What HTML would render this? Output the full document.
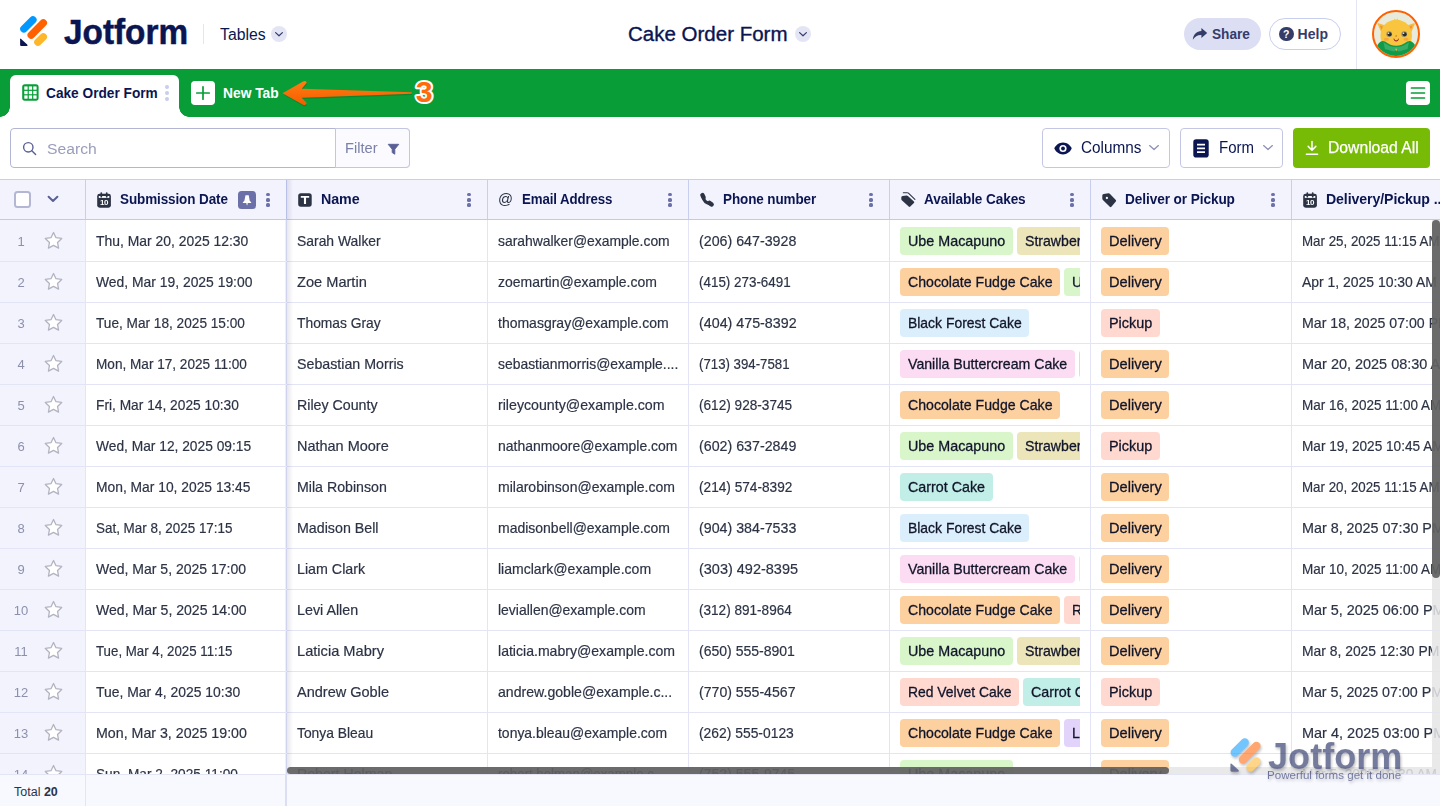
<!DOCTYPE html>
<html><head><meta charset="utf-8"><title>Cake Order Form - Jotform Tables</title>
<style>
*{box-sizing:border-box;margin:0;padding:0}
html,body{width:1440px;height:806px;overflow:hidden;background:#fff}
body{font-family:"Liberation Sans",sans-serif;color:#2c3345;position:relative;-webkit-font-smoothing:antialiased}
.abs{position:absolute}
/* header */
#hdr{position:absolute;left:0;top:0;width:1440px;height:69px;background:#fff}
#greenbar{position:absolute;left:0;top:69px;width:1440px;height:48px;background:#089d37}
#tab{position:absolute;left:10px;top:75px;width:169px;height:42px;background:#fff;border-radius:6px 6px 0 0}
#tab:before,#tab:after{content:"";position:absolute;bottom:0;width:10px;height:10px;background:radial-gradient(circle at 0 0,rgba(255,255,255,0) 9.5px,#fff 10px)}
#tab:before{left:-10px}
#tab:after{right:-10px;background:radial-gradient(circle at 100% 0,rgba(255,255,255,0) 9.5px,#fff 10px)}
.t{position:absolute;white-space:nowrap;line-height:1;transform-origin:0 0}
/* toolbar */
#search{position:absolute;left:10px;top:128px;width:400px;height:40px;border:1px solid #b2b6d4;border-radius:4px;background:#fff}
#filter{position:absolute;left:335px;top:128px;width:75px;height:40px;border:1px solid #c3c6e0;border-left:1px solid #c3c6e0;border-radius:0 4px 4px 0;background:#fafaff}
.btn{position:absolute;top:128px;height:40px;border:1px solid #c3c7e3;border-radius:4px;background:#fff}
/* table */
#thead{position:absolute;left:0;top:179px;width:1440px;height:41px;background:#f3f3fe;border-top:1px solid #c8ceed;border-bottom:1px solid #c3c9ea}
.hc{position:absolute;top:0;height:39px;border-right:1px solid #c8ceed}
.ht{position:absolute;transform-origin:0 0;top:12px;font-size:14px;font-weight:bold;color:#0a1551;white-space:nowrap;line-height:1;letter-spacing:-0.1px}
.dots{position:absolute;top:13.3px;width:3.2px;height:14px}
.dots i{display:block;width:3.2px;height:3.2px;border-radius:50%;background:#6b71a8;margin-bottom:1.9px}
.row{position:absolute;left:0;width:1440px;height:41px;border-bottom:1px solid #e3e5f6}
.c{position:absolute;top:0;height:40px;font-size:15px;line-height:39px;white-space:nowrap;overflow:hidden;color:#2c3345;padding-left:10px}
.c0{left:0;width:85px;padding:0}
.c1{left:86px;width:200px}
.c2{left:287px;width:200px}
.c3{left:488px;width:200px}
.c4{left:689px;width:200px}
.c5{left:890px;width:200px}
.c6{left:1091px;width:200px}
.c7{left:1292px;width:148px}
.vl{position:absolute;top:220px;width:1px;height:554px;background:#e3e5f6}
.num{position:absolute;left:0;top:1px;width:42px;text-align:center;font-size:13px;color:#8c90ac}
.star{position:absolute;left:42.5px;top:9.2px;width:21px;height:21px}
.tags{position:absolute;left:10px;top:0;width:180px;height:40px;overflow:hidden;white-space:nowrap;font-size:0}
.s{display:inline-block;transform-origin:0 50%;white-space:nowrap;-webkit-text-stroke:0.2px currentColor}
.tag .s{-webkit-text-stroke:0.3px currentColor}
.tag{display:inline-block;vertical-align:top;margin-top:6px;height:28px;line-height:28px;padding:0 0 0 8px;border-radius:4px;color:#11152a;font-size:15px;margin-right:4.2px;overflow:hidden;white-space:nowrap}
.k-g{background:#d9f5ca}.k-o{background:#fdd0a0}.k-b{background:#dbeefb}.k-p{background:#fcdcf2}
.k-t{background:#ece5ba}.k-c{background:#c1efe8}.k-r{background:#ffd8d0}.k-l{background:#e2d3fb}
/* footer */
#foot{position:absolute;left:0;top:774px;width:1440px;height:32px;background:#f8f8ff;border-top:1px solid #e3e5f5}
#all{position:absolute;left:0;top:0;width:1440px;height:806px;opacity:0.999}
</style></head><body><div id="all">

<div id="hdr">
  <!-- logo icon -->
  <svg class="abs" style="left:18px;top:14px" width="32" height="34" viewBox="0 0 32 34">
    <g stroke-linecap="round" stroke-width="7.4" fill="none">
      <line x1="5.9" y1="14.8" x2="14.9" y2="5.8" stroke="#0099ff"/>
      <line x1="13.2" y1="21.1" x2="25.3" y2="8.9" stroke="#ff6100"/>
      <line x1="19.9" y1="28.2" x2="25.3" y2="22.8" stroke="#ffb629"/>
    </g>
    <path d="M2.1 25.3 Q2.1 24 3.1 24.9 L9.2 30.4 Q10.3 31.9 8.6 31.9 L3.1 31.9 Q2.1 31.9 2.1 30.9 Z" fill="#0a1551"/>
  </svg>
  <div class="t" id="jf" style="left:64.4px;top:15.3px;font-size:34.5px;font-weight:bold;color:#0a1551;-webkit-text-stroke:0.5px #0a1551;transform:scaleX(0.966)">Jotform</div>
  <div class="abs" style="left:203px;top:24px;width:1px;height:20px;background:#e3e5f5"></div>
  <div class="t" id="tbl" style="left:220px;top:27.2px;font-size:16px;color:#0a1551;transform:scaleX(0.985)">Tables</div>
  <div class="abs" style="left:271px;top:26px;width:16px;height:16px;border-radius:50%;background:#e3e5f5"></div>
  <svg class="abs" style="left:271px;top:26px" width="16" height="16" viewBox="0 0 16 16"><path d="M4.6 6.6l3.4 3.2 3.4-3.2" fill="none" stroke="#343c6a" stroke-width="1.2" stroke-linecap="round" stroke-linejoin="round"/></svg>

  <div class="t" id="ttl" style="left:628.4px;top:24.3px;font-size:20px;color:#0a1551;-webkit-text-stroke:0.35px #0a1551;transform:scaleX(1.025)">Cake Order Form</div>
  <div class="abs" style="left:795px;top:26px;width:16px;height:16px;border-radius:50%;background:#e3e5f5"></div>
  <svg class="abs" style="left:795px;top:26px" width="16" height="16" viewBox="0 0 16 16"><path d="M4.6 6.6l3.4 3.2 3.4-3.2" fill="none" stroke="#343c6a" stroke-width="1.2" stroke-linecap="round" stroke-linejoin="round"/></svg>

  <!-- share -->
  <div class="abs" style="left:1184px;top:18px;width:77px;height:32px;border-radius:16px;background:#dcdff3"></div>
  <svg class="abs" style="left:1192px;top:27px" width="16" height="14" viewBox="0 0 16 14"><path d="M9.4 1 L15.2 6 L9.4 11 V8 C5.8 7.8 3 9.2 0.8 12.8 C1.2 7.6 4.6 4.4 9.4 4 Z" fill="#343c6a"/></svg>
  <div class="t" style="left:1212px;top:27.2px;font-size:14px;font-weight:bold;color:#343c6a;transform:scaleX(0.975)">Share</div>
  <!-- help -->
  <div class="abs" style="left:1269px;top:18px;width:72px;height:32px;border-radius:16px;background:#fff;border:1px solid #c8ceed"></div>
  <div class="abs" style="left:1279px;top:26.5px;width:14.5px;height:14.5px;border-radius:50%;background:#343c6a;color:#fff;font-size:10.5px;font-weight:bold;text-align:center;line-height:15px">?</div>
  <div class="t" style="left:1297.6px;top:27.2px;font-size:14px;font-weight:bold;color:#343c6a;transform:scaleX(1.0)">Help</div>
  <div class="abs" style="left:1356px;top:0;width:1px;height:69px;background:#e3e5f5"></div>
  <!-- avatar -->
  <div class="abs" style="left:1372px;top:10px;width:48px;height:48px;border-radius:50%;background:#e8eadc;border:2px solid #ff6100;overflow:hidden">
    <svg width="44" height="44" viewBox="0 0 44 44">
      <g transform="translate(0,1.3)">
      <path d="M5 14 L3.6 10.6 Q3.6 9.6 4.8 9.9 L15 13.5 L9 23 Z" fill="#f9b93a"/>
      <path d="M39.4 14 L40.8 10.6 Q40.8 9.6 39.6 9.9 L29.4 13.5 L35.4 23 Z" fill="#f9b93a"/>
      <path d="M6 12.2 L12.4 14.6 L8.6 19.6 Z" fill="#ef8f2e"/>
      <path d="M38.4 12.2 L32 14.6 L35.8 19.6 Z" fill="#ef8f2e"/>
      <path d="M19.4 8.2 L20.6 5.2 L21.8 7.2 L23.4 5 L24.4 8.2 Z" fill="#f9c53f"/>
      <circle cx="22.2" cy="22.2" r="15.8" fill="#f9c53f"/>
      </g>
      <path d="M-2 46 L3.5 33 Q7 27.6 11 29.6 Q22 38 33.4 29.6 Q37.4 27.6 41 33 L46 46 Z" fill="#109b48"/>
      <path d="M9.5 30.2 Q22 40 35 30.2 L33.5 37 L24.5 39.6 L22.2 37.6 L20 39.6 L11 37 Z" fill="#3aae68"/>
      <path d="M21.2 36.8 L22.2 39.6 L23.2 36.8 Z" fill="#f9b93a"/>
      <g transform="translate(0,1.3)">
      <circle cx="15.2" cy="20.8" r="2.9" fill="#8e8c78"/><circle cx="30.2" cy="20.8" r="2.9" fill="#8e8c78"/>
      <circle cx="15.6" cy="20.9" r="2" fill="#2b2a25"/><circle cx="30.6" cy="20.9" r="2" fill="#2b2a25"/>
      <circle cx="14.6" cy="20" r="0.8" fill="#f4f1e4"/><circle cx="29.6" cy="20" r="0.8" fill="#f4f1e4"/>
      <ellipse cx="12.4" cy="26" rx="2.6" ry="1.5" fill="#f7a83a"/><ellipse cx="32" cy="26" rx="2.6" ry="1.5" fill="#f7a83a"/>
      <ellipse cx="22.2" cy="22.6" rx="0.8" ry="0.9" fill="#c98a2a"/>
      <path d="M19.4 25.2 Q22.2 26.4 25 25.2 Q24.4 28.2 22.2 28.2 Q20 28.2 19.4 25.2 Z" fill="#a3262a"/>
      <path d="M20.6 25.7 Q22.2 26.3 23.8 25.7 L23.5 26.7 Q22.2 27 20.9 26.7 Z" fill="#fbe9d8"/>
      </g>
    </svg>
  </div>
</div>

<div id="greenbar"></div>
<div id="tab">
  <svg class="abs" style="left:11.5px;top:9px" width="17" height="17" viewBox="0 0 17 17"><rect x="0.2" y="0.3" width="16.4" height="16.4" rx="2.6" fill="#089d37"/><g fill="#fff"><rect x="2.3" y="2.4" width="3.3" height="3.3"/><rect x="6.8" y="2.4" width="3.3" height="3.3"/><rect x="11.3" y="2.4" width="3.3" height="3.3"/><rect x="2.3" y="6.9" width="3.3" height="3.3"/><rect x="6.8" y="6.9" width="3.3" height="3.3"/><rect x="11.3" y="6.9" width="3.3" height="3.3"/><rect x="2.3" y="11.4" width="3.3" height="3.3"/><rect x="6.8" y="11.4" width="3.3" height="3.3"/><rect x="11.3" y="11.4" width="3.3" height="3.3"/></g></svg>
  <div class="t" style="left:36.2px;top:10.9px;font-size:14px;font-weight:bold;color:#0a1551;transform:scaleX(0.977)">Cake Order Form</div>
  <div class="abs" style="left:155px;top:9.7px;width:4.2px;height:4.2px;border-radius:50%;background:#c8ceed"></div>
  <div class="abs" style="left:155px;top:15.9px;width:4.2px;height:4.2px;border-radius:50%;background:#c8ceed"></div>
  <div class="abs" style="left:155px;top:22.1px;width:4.2px;height:4.2px;border-radius:50%;background:#c8ceed"></div>
</div>
<!-- new tab -->
<div class="abs" style="left:191px;top:81px;width:24px;height:24px;border-radius:4px;background:#fff"></div>
<svg class="abs" style="left:191px;top:81px" width="24" height="24" viewBox="0 0 24 24"><path d="M12 5.8v12.4M5.8 12h12.4" stroke="#089d37" stroke-width="1.7" stroke-linecap="round"/></svg>
<div class="t" style="left:223.2px;top:86.3px;font-size:14px;font-weight:bold;color:#fff;transform:scaleX(0.985)">New Tab</div>
<!-- arrow annotation -->
<svg class="abs" style="left:280px;top:76px" width="160" height="36" viewBox="0 0 160 36">
  <defs><linearGradient id="ag" x1="0" y1="0" x2="0" y2="1"><stop offset="0" stop-color="#ff7d12"/><stop offset="1" stop-color="#f55c00"/></linearGradient></defs>
  <path d="M3.3 18.6 L23.3 6.9 Q26.6 5.6 27 8.2 L22 14 L132 17.5 L132 19 L22 23 L27 28.4 Q26.6 31 23.3 30 Z" fill="#0a6d25" opacity="0.45"/>
  <path d="M2.5 17.2 L23 5.5 Q26.3 4.2 26.7 6.8 L21.7 12.7 L131.7 16.2 L131.7 17.7 L21.7 21.7 L26.7 27 Q26.3 29.8 23 28.8 Z" fill="url(#ag)"/>
  <text x="135.8" y="26.4" font-family="Liberation Sans, sans-serif" font-weight="bold" font-size="28" transform="translate(135.8 26.6) scale(1.08 1.03) translate(-135.8 -26.6)" fill="#ff6b0a" stroke="#fff" stroke-width="3.8" paint-order="stroke" stroke-linejoin="round">3</text>
</svg>
<!-- list icon right -->
<div class="abs" style="left:1406px;top:81px;width:24px;height:24px;border-radius:4px;background:#fff"></div>
<svg class="abs" style="left:1406px;top:81px" width="24" height="24" viewBox="0 0 24 24"><path d="M5.5 7h13M5.5 12h13M5.5 17h13" stroke="#089d37" stroke-width="1.7" stroke-linecap="round"/></svg>

<!-- toolbar -->
<div id="search"></div>
<svg class="abs" style="left:21.9px;top:140.7px" width="16" height="16" viewBox="0 0 16 16"><circle cx="6.3" cy="6.3" r="4.7" fill="none" stroke="#5a6096" stroke-width="1.4"/><path d="M9.8 9.8l3.8 3.8" stroke="#5a6096" stroke-width="1.4" stroke-linecap="round"/></svg>
<div class="t" style="left:46.8px;top:140.6px;font-size:15.5px;color:#9a9dbb;transform:scaleX(1.012)">Search</div>
<div id="filter"></div>
<div class="t" style="left:345.2px;top:141.4px;font-size:14.5px;color:#7b80a8;transform:scaleX(1.01)">Filter</div>
<svg class="abs" style="left:386.5px;top:142.5px" width="13" height="13" viewBox="0 0 13 13"><path d="M1.2 1.3 H11.8 L7.8 6.2 V11.2 L5.2 9.6 V6.2 Z" fill="#5a6096" stroke="#5a6096" stroke-width="0.9" stroke-linejoin="round"/></svg>

<div class="btn" style="left:1042px;width:128px"></div>
<svg class="abs" style="left:1054px;top:142px" width="18" height="13" viewBox="0 0 18 13"><path d="M9 0.6 C4.8 0.6 1.6 3.6 0.3 6.5 C1.6 9.4 4.8 12.4 9 12.4 C13.2 12.4 16.4 9.4 17.7 6.5 C16.4 3.6 13.2 0.6 9 0.6 Z" fill="#0a1551"/><circle cx="9" cy="6.5" r="3.6" fill="#fff"/><circle cx="9" cy="6.5" r="1.9" fill="#0a1551"/></svg>
<div class="t" style="left:1080.6px;top:140.2px;font-size:16px;color:#0a1551;transform:scaleX(0.957)">Columns</div>
<svg class="abs" style="left:1148px;top:143px" width="12" height="10" viewBox="0 0 12 10"><path d="M1.6 2.6l4.4 4L10.4 2.6" fill="none" stroke="#8d91b5" stroke-width="1.3" stroke-linecap="round" stroke-linejoin="round"/></svg>

<div class="btn" style="left:1180px;width:103px"></div>
<svg class="abs" style="left:1193px;top:138.5px" width="16" height="19" viewBox="0 0 16 19"><rect x="0.3" y="0.2" width="15.4" height="18.4" rx="2.8" fill="#0a1551"/><path d="M4 5.6h8M4 9.4h8M4 13.2h8" stroke="#fff" stroke-width="1.7"/></svg>
<div class="t" style="left:1219.2px;top:140.2px;font-size:16px;color:#0a1551;transform:scaleX(0.937)">Form</div>
<svg class="abs" style="left:1261.5px;top:143px" width="12" height="10" viewBox="0 0 12 10"><path d="M1.6 2.6l4.4 4L10.4 2.6" fill="none" stroke="#8d91b5" stroke-width="1.3" stroke-linecap="round" stroke-linejoin="round"/></svg>

<div class="abs" style="left:1293px;top:128px;width:137px;height:40px;border-radius:4px;background:#78bb07"></div>
<svg class="abs" style="left:1305px;top:140.2px" width="14" height="16" viewBox="0 0 14 16"><path d="M7 1.6v8.4M3.2 6.4l3.8 3.8 3.8-3.8M1.4 14.2h11.2" fill="none" stroke="#fff" stroke-width="1.5" stroke-linecap="round" stroke-linejoin="round"/></svg>
<div class="t" style="left:1327.8px;top:140.2px;font-size:16px;color:#fff;-webkit-text-stroke:0.25px #fff;transform:scaleX(0.981)">Download All</div>

<!-- grid bg -->
<div class="abs" style="left:0;top:220px;width:85px;height:554px;background:#f3f3fd"></div>
<div class="vl" style="left:85px"></div><div class="vl" style="left:285px;background:#eeeffa"></div><div class="vl" style="left:286px;background:#cfd3ee"></div><div class="vl" style="left:487px"></div><div class="vl" style="left:688px"></div><div class="vl" style="left:889px"></div><div class="vl" style="left:1090px"></div><div class="vl" style="left:1291px"></div>
<!-- rows -->
<div class="row" style="top:221px">
<div class="c c0"><span class="num">1</span><svg class="star" viewBox="0 0 24 24"><path d="M12 2.8l2.85 6.05 6.55.85-4.8 4.55 1.2 6.5L12 17.6l-5.8 3.15 1.2-6.5-4.8-4.55 6.55-.85z" fill="#fff" stroke="#b1b3c0" stroke-width="1.45" stroke-linejoin="round"/></svg></div>
<div class="c c1"><span class="s" style="transform:scaleX(0.9271)">Thu, Mar 20, 2025 12:30</span></div>
<div class="c c2"><span class="s" style="transform:scaleX(0.9268)">Sarah Walker</span></div>
<div class="c c3"><span class="s" style="transform:scaleX(0.9266)">sarahwalker@example.com</span></div>
<div class="c c4"><span class="s" style="transform:scaleX(0.9485)">(206) 647-3928</span></div>
<div class="c c5"><div class="tags"><span class="tag k-g" style="width:112.7px"><span class="s" style="transform:scaleX(0.9554)">Ube Macapuno</span></span><span class="tag k-t" style="width:120.5px"><span class="s" style="transform:scaleX(0.9400)">Strawberry Cake</span></span></div></div>
<div class="c c6"><span class="tag k-o" style="width:68.2px"><span class="s" style="transform:scaleX(0.9725)">Delivery</span></span></div>
<div class="c c7"><span class="s" style="transform:scaleX(0.8885)">Mar 25, 2025 11:15 AM</span></div>
</div>
<div class="row" style="top:262px">
<div class="c c0"><span class="num">2</span><svg class="star" viewBox="0 0 24 24"><path d="M12 2.8l2.85 6.05 6.55.85-4.8 4.55 1.2 6.5L12 17.6l-5.8 3.15 1.2-6.5-4.8-4.55 6.55-.85z" fill="#fff" stroke="#b1b3c0" stroke-width="1.45" stroke-linejoin="round"/></svg></div>
<div class="c c1"><span class="s" style="transform:scaleX(0.9254)">Wed, Mar 19, 2025 19:00</span></div>
<div class="c c2"><span class="s" style="transform:scaleX(0.9735)">Zoe Martin</span></div>
<div class="c c3"><span class="s" style="transform:scaleX(0.9331)">zoemartin@example.com</span></div>
<div class="c c4"><span class="s" style="transform:scaleX(0.8940)">(415) 273-6491</span></div>
<div class="c c5"><div class="tags"><span class="tag k-o" style="width:160.0px"><span class="s" style="transform:scaleX(0.9418)">Chocolate Fudge Cake</span></span><span class="tag k-g" style="width:112.7px"><span class="s" style="transform:scaleX(0.9554)">Ube Macapuno</span></span></div></div>
<div class="c c6"><span class="tag k-o" style="width:68.2px"><span class="s" style="transform:scaleX(0.9725)">Delivery</span></span></div>
<div class="c c7"><span class="s" style="transform:scaleX(0.9296)">Apr 1, 2025 10:30 AM</span></div>
</div>
<div class="row" style="top:303px">
<div class="c c0"><span class="num">3</span><svg class="star" viewBox="0 0 24 24"><path d="M12 2.8l2.85 6.05 6.55.85-4.8 4.55 1.2 6.5L12 17.6l-5.8 3.15 1.2-6.5-4.8-4.55 6.55-.85z" fill="#fff" stroke="#b1b3c0" stroke-width="1.45" stroke-linejoin="round"/></svg></div>
<div class="c c1"><span class="s" style="transform:scaleX(0.9095)">Tue, Mar 18, 2025 15:00</span></div>
<div class="c c2"><span class="s" style="transform:scaleX(0.9212)">Thomas Gray</span></div>
<div class="c c3"><span class="s" style="transform:scaleX(0.9332)">thomasgray@example.com</span></div>
<div class="c c4"><span class="s" style="transform:scaleX(0.9515)">(404) 475-8392</span></div>
<div class="c c5"><div class="tags"><span class="tag k-b" style="width:129.2px"><span class="s" style="transform:scaleX(0.9278)">Black Forest Cake</span></span></div></div>
<div class="c c6"><span class="tag k-r" style="width:58.8px"><span class="s" style="transform:scaleX(0.9616)">Pickup</span></span></div>
<div class="c c7"><span class="s" style="transform:scaleX(0.9432)">Mar 18, 2025 07:00 PM</span></div>
</div>
<div class="row" style="top:344px">
<div class="c c0"><span class="num">4</span><svg class="star" viewBox="0 0 24 24"><path d="M12 2.8l2.85 6.05 6.55.85-4.8 4.55 1.2 6.5L12 17.6l-5.8 3.15 1.2-6.5-4.8-4.55 6.55-.85z" fill="#fff" stroke="#b1b3c0" stroke-width="1.45" stroke-linejoin="round"/></svg></div>
<div class="c c1"><span class="s" style="transform:scaleX(0.9063)">Mon, Mar 17, 2025 11:00</span></div>
<div class="c c2"><span class="s" style="transform:scaleX(0.9480)">Sebastian Morris</span></div>
<div class="c c3"><span class="s" style="transform:scaleX(0.9271)">sebastianmorris@example....</span></div>
<div class="c c4"><span class="s" style="transform:scaleX(0.8832)">(713) 394-7581</span></div>
<div class="c c5"><div class="tags"><span class="tag k-p" style="width:174.7px"><span class="s" style="transform:scaleX(0.9422)">Vanilla Buttercream Cake</span></span><span class="tag k-l" style="width:58.6px"><span class="s" style="transform:scaleX(0.9400)">Lemon</span></span></div></div>
<div class="c c6"><span class="tag k-o" style="width:68.2px"><span class="s" style="transform:scaleX(0.9725)">Delivery</span></span></div>
<div class="c c7"><span class="s" style="transform:scaleX(0.9632)">Mar 20, 2025 08:30 AM</span></div>
</div>
<div class="row" style="top:385px">
<div class="c c0"><span class="num">5</span><svg class="star" viewBox="0 0 24 24"><path d="M12 2.8l2.85 6.05 6.55.85-4.8 4.55 1.2 6.5L12 17.6l-5.8 3.15 1.2-6.5-4.8-4.55 6.55-.85z" fill="#fff" stroke="#b1b3c0" stroke-width="1.45" stroke-linejoin="round"/></svg></div>
<div class="c c1"><span class="s" style="transform:scaleX(0.9165)">Fri, Mar 14, 2025 10:30</span></div>
<div class="c c2"><span class="s" style="transform:scaleX(0.9477)">Riley County</span></div>
<div class="c c3"><span class="s" style="transform:scaleX(0.9453)">rileycounty@example.com</span></div>
<div class="c c4"><span class="s" style="transform:scaleX(0.9076)">(612) 928-3745</span></div>
<div class="c c5"><div class="tags"><span class="tag k-o" style="width:160.0px"><span class="s" style="transform:scaleX(0.9418)">Chocolate Fudge Cake</span></span></div></div>
<div class="c c6"><span class="tag k-o" style="width:68.2px"><span class="s" style="transform:scaleX(0.9725)">Delivery</span></span></div>
<div class="c c7"><span class="s" style="transform:scaleX(0.9001)">Mar 16, 2025 11:00 AM</span></div>
</div>
<div class="row" style="top:426px">
<div class="c c0"><span class="num">6</span><svg class="star" viewBox="0 0 24 24"><path d="M12 2.8l2.85 6.05 6.55.85-4.8 4.55 1.2 6.5L12 17.6l-5.8 3.15 1.2-6.5-4.8-4.55 6.55-.85z" fill="#fff" stroke="#b1b3c0" stroke-width="1.45" stroke-linejoin="round"/></svg></div>
<div class="c c1"><span class="s" style="transform:scaleX(0.9178)">Wed, Mar 12, 2025 09:15</span></div>
<div class="c c2"><span class="s" style="transform:scaleX(0.9646)">Nathan Moore</span></div>
<div class="c c3"><span class="s" style="transform:scaleX(0.9309)">nathanmoore@example.com</span></div>
<div class="c c4"><span class="s" style="transform:scaleX(0.9485)">(602) 637-2849</span></div>
<div class="c c5"><div class="tags"><span class="tag k-g" style="width:112.7px"><span class="s" style="transform:scaleX(0.9554)">Ube Macapuno</span></span><span class="tag k-t" style="width:120.5px"><span class="s" style="transform:scaleX(0.9400)">Strawberry Cake</span></span></div></div>
<div class="c c6"><span class="tag k-r" style="width:58.8px"><span class="s" style="transform:scaleX(0.9616)">Pickup</span></span></div>
<div class="c c7"><span class="s" style="transform:scaleX(0.9078)">Mar 19, 2025 10:45 AM</span></div>
</div>
<div class="row" style="top:467px">
<div class="c c0"><span class="num">7</span><svg class="star" viewBox="0 0 24 24"><path d="M12 2.8l2.85 6.05 6.55.85-4.8 4.55 1.2 6.5L12 17.6l-5.8 3.15 1.2-6.5-4.8-4.55 6.55-.85z" fill="#fff" stroke="#b1b3c0" stroke-width="1.45" stroke-linejoin="round"/></svg></div>
<div class="c c1"><span class="s" style="transform:scaleX(0.9218)">Mon, Mar 10, 2025 13:45</span></div>
<div class="c c2"><span class="s" style="transform:scaleX(0.9448)">Mila Robinson</span></div>
<div class="c c3"><span class="s" style="transform:scaleX(0.9341)">milarobinson@example.com</span></div>
<div class="c c4"><span class="s" style="transform:scaleX(0.9105)">(214) 574-8392</span></div>
<div class="c c5"><div class="tags"><span class="tag k-c" style="width:92.5px"><span class="s" style="transform:scaleX(0.9523)">Carrot Cake</span></span></div></div>
<div class="c c6"><span class="tag k-o" style="width:68.2px"><span class="s" style="transform:scaleX(0.9725)">Delivery</span></span></div>
<div class="c c7"><span class="s" style="transform:scaleX(0.8885)">Mar 20, 2025 11:15 AM</span></div>
</div>
<div class="row" style="top:508px">
<div class="c c0"><span class="num">8</span><svg class="star" viewBox="0 0 24 24"><path d="M12 2.8l2.85 6.05 6.55.85-4.8 4.55 1.2 6.5L12 17.6l-5.8 3.15 1.2-6.5-4.8-4.55 6.55-.85z" fill="#fff" stroke="#b1b3c0" stroke-width="1.45" stroke-linejoin="round"/></svg></div>
<div class="c c1"><span class="s" style="transform:scaleX(0.8944)">Sat, Mar 8, 2025 17:15</span></div>
<div class="c c2"><span class="s" style="transform:scaleX(0.9489)">Madison Bell</span></div>
<div class="c c3"><span class="s" style="transform:scaleX(0.9323)">madisonbell@example.com</span></div>
<div class="c c4"><span class="s" style="transform:scaleX(0.9485)">(904) 384-7533</span></div>
<div class="c c5"><div class="tags"><span class="tag k-b" style="width:129.2px"><span class="s" style="transform:scaleX(0.9278)">Black Forest Cake</span></span></div></div>
<div class="c c6"><span class="tag k-o" style="width:68.2px"><span class="s" style="transform:scaleX(0.9725)">Delivery</span></span></div>
<div class="c c7"><span class="s" style="transform:scaleX(0.9559)">Mar 8, 2025 07:30 PM</span></div>
</div>
<div class="row" style="top:549px">
<div class="c c0"><span class="num">9</span><svg class="star" viewBox="0 0 24 24"><path d="M12 2.8l2.85 6.05 6.55.85-4.8 4.55 1.2 6.5L12 17.6l-5.8 3.15 1.2-6.5-4.8-4.55 6.55-.85z" fill="#fff" stroke="#b1b3c0" stroke-width="1.45" stroke-linejoin="round"/></svg></div>
<div class="c c1"><span class="s" style="transform:scaleX(0.9342)">Wed, Mar 5, 2025 17:00</span></div>
<div class="c c2"><span class="s" style="transform:scaleX(0.9500)">Liam Clark</span></div>
<div class="c c3"><span class="s" style="transform:scaleX(0.9358)">liamclark@example.com</span></div>
<div class="c c4"><span class="s" style="transform:scaleX(0.9651)">(303) 492-8395</span></div>
<div class="c c5"><div class="tags"><span class="tag k-p" style="width:174.7px"><span class="s" style="transform:scaleX(0.9422)">Vanilla Buttercream Cake</span></span><span class="tag k-g" style="width:41.4px"><span class="s" style="transform:scaleX(0.9400)">Ube</span></span></div></div>
<div class="c c6"><span class="tag k-o" style="width:68.2px"><span class="s" style="transform:scaleX(0.9725)">Delivery</span></span></div>
<div class="c c7"><span class="s" style="transform:scaleX(0.9001)">Mar 10, 2025 11:00 AM</span></div>
</div>
<div class="row" style="top:590px">
<div class="c c0"><span class="num">10</span><svg class="star" viewBox="0 0 24 24"><path d="M12 2.8l2.85 6.05 6.55.85-4.8 4.55 1.2 6.5L12 17.6l-5.8 3.15 1.2-6.5-4.8-4.55 6.55-.85z" fill="#fff" stroke="#b1b3c0" stroke-width="1.45" stroke-linejoin="round"/></svg></div>
<div class="c c1"><span class="s" style="transform:scaleX(0.9373)">Wed, Mar 5, 2025 14:00</span></div>
<div class="c c2"><span class="s" style="transform:scaleX(0.9530)">Levi Allen</span></div>
<div class="c c3"><span class="s" style="transform:scaleX(0.9304)">leviallen@example.com</span></div>
<div class="c c4"><span class="s" style="transform:scaleX(0.9047)">(312) 891-8964</span></div>
<div class="c c5"><div class="tags"><span class="tag k-o" style="width:160.0px"><span class="s" style="transform:scaleX(0.9418)">Chocolate Fudge Cake</span></span><span class="tag k-r" style="width:119.0px"><span class="s" style="transform:scaleX(0.9263)">Red Velvet Cake</span></span></div></div>
<div class="c c6"><span class="tag k-o" style="width:68.2px"><span class="s" style="transform:scaleX(0.9725)">Delivery</span></span></div>
<div class="c c7"><span class="s" style="transform:scaleX(0.9600)">Mar 5, 2025 06:00 PM</span></div>
</div>
<div class="row" style="top:631px">
<div class="c c0"><span class="num">11</span><svg class="star" viewBox="0 0 24 24"><path d="M12 2.8l2.85 6.05 6.55.85-4.8 4.55 1.2 6.5L12 17.6l-5.8 3.15 1.2-6.5-4.8-4.55 6.55-.85z" fill="#fff" stroke="#b1b3c0" stroke-width="1.45" stroke-linejoin="round"/></svg></div>
<div class="c c1"><span class="s" style="transform:scaleX(0.8848)">Tue, Mar 4, 2025 11:15</span></div>
<div class="c c2"><span class="s" style="transform:scaleX(0.9753)">Laticia Mabry</span></div>
<div class="c c3"><span class="s" style="transform:scaleX(0.9384)">laticia.mabry@example.com</span></div>
<div class="c c4"><span class="s" style="transform:scaleX(0.9349)">(650) 555-8901</span></div>
<div class="c c5"><div class="tags"><span class="tag k-g" style="width:112.7px"><span class="s" style="transform:scaleX(0.9554)">Ube Macapuno</span></span><span class="tag k-t" style="width:120.5px"><span class="s" style="transform:scaleX(0.9400)">Strawberry Cake</span></span></div></div>
<div class="c c6"><span class="tag k-o" style="width:68.2px"><span class="s" style="transform:scaleX(0.9725)">Delivery</span></span></div>
<div class="c c7"><span class="s" style="transform:scaleX(0.9247)">Mar 8, 2025 12:30 PM</span></div>
</div>
<div class="row" style="top:672px">
<div class="c c0"><span class="num">12</span><svg class="star" viewBox="0 0 24 24"><path d="M12 2.8l2.85 6.05 6.55.85-4.8 4.55 1.2 6.5L12 17.6l-5.8 3.15 1.2-6.5-4.8-4.55 6.55-.85z" fill="#fff" stroke="#b1b3c0" stroke-width="1.45" stroke-linejoin="round"/></svg></div>
<div class="c c1"><span class="s" style="transform:scaleX(0.9280)">Tue, Mar 4, 2025 10:30</span></div>
<div class="c c2"><span class="s" style="transform:scaleX(0.9678)">Andrew Goble</span></div>
<div class="c c3"><span class="s" style="transform:scaleX(0.9399)">andrew.goble@example.c...</span></div>
<div class="c c4"><span class="s" style="transform:scaleX(0.9407)">(770) 555-4567</span></div>
<div class="c c5"><div class="tags"><span class="tag k-r" style="width:119.0px"><span class="s" style="transform:scaleX(0.9263)">Red Velvet Cake</span></span><span class="tag k-c" style="width:92.5px"><span class="s" style="transform:scaleX(0.9523)">Carrot Cake</span></span></div></div>
<div class="c c6"><span class="tag k-r" style="width:58.8px"><span class="s" style="transform:scaleX(0.9616)">Pickup</span></span></div>
<div class="c c7"><span class="s" style="transform:scaleX(0.9510)">Mar 5, 2025 07:00 PM</span></div>
</div>
<div class="row" style="top:713px">
<div class="c c0"><span class="num">13</span><svg class="star" viewBox="0 0 24 24"><path d="M12 2.8l2.85 6.05 6.55.85-4.8 4.55 1.2 6.5L12 17.6l-5.8 3.15 1.2-6.5-4.8-4.55 6.55-.85z" fill="#fff" stroke="#b1b3c0" stroke-width="1.45" stroke-linejoin="round"/></svg></div>
<div class="c c1"><span class="s" style="transform:scaleX(0.9475)">Mon, Mar 3, 2025 19:00</span></div>
<div class="c c2"><span class="s" style="transform:scaleX(0.9229)">Tonya Bleau</span></div>
<div class="c c3"><span class="s" style="transform:scaleX(0.9297)">tonya.bleau@example.com</span></div>
<div class="c c4"><span class="s" style="transform:scaleX(0.9242)">(262) 555-0123</span></div>
<div class="c c5"><div class="tags"><span class="tag k-o" style="width:160.0px"><span class="s" style="transform:scaleX(0.9418)">Chocolate Fudge Cake</span></span><span class="tag k-l" style="width:58.6px"><span class="s" style="transform:scaleX(0.9400)">Lemon</span></span></div></div>
<div class="c c6"><span class="tag k-o" style="width:68.2px"><span class="s" style="transform:scaleX(0.9725)">Delivery</span></span></div>
<div class="c c7"><span class="s" style="transform:scaleX(0.9658)">Mar 4, 2025 03:00 PM</span></div>
</div>
<div class="row" style="top:754px">
<div class="c c0"><span class="num">14</span><svg class="star" viewBox="0 0 24 24"><path d="M12 2.8l2.85 6.05 6.55.85-4.8 4.55 1.2 6.5L12 17.6l-5.8 3.15 1.2-6.5-4.8-4.55 6.55-.85z" fill="#fff" stroke="#b1b3c0" stroke-width="1.45" stroke-linejoin="round"/></svg></div>
<div class="c c1"><span class="s" style="transform:scaleX(0.9115)">Sun, Mar 2, 2025 11:00</span></div>
<div class="c c2"><span class="s" style="transform:scaleX(0.9446)">Robert Holman</span></div>
<div class="c c3"><span class="s" style="transform:scaleX(0.8847)">robert.holman@example.c...</span></div>
<div class="c c4"><span class="s" style="transform:scaleX(0.9378)">(752) 555-9745</span></div>
<div class="c c5"><div class="tags"><span class="tag k-g" style="width:112.7px"><span class="s" style="transform:scaleX(0.9554)">Ube Macapuno</span></span></div></div>
<div class="c c6"><span class="tag k-o" style="width:68.2px"><span class="s" style="transform:scaleX(0.9725)">Delivery</span></span></div>
<div class="c c7"><span class="s" style="transform:scaleX(0.9149)">Mar 5, 2025 10:30 AM</span></div>
</div>

<!-- table header -->
<div id="thead">
  <div class="hc" style="left:0;width:86px">
    <div class="abs" style="left:14px;top:11px;width:17px;height:17px;border:2px solid #b3b7d4;border-radius:3.5px;background:#fff"></div>
    <svg class="abs" style="left:46px;top:14px" width="14" height="10" viewBox="0 0 14 10"><path d="M2.6 2.8L7 7l4.4-4.2" fill="none" stroke="#5a6096" stroke-width="2" stroke-linecap="round" stroke-linejoin="round"/></svg>
  </div>
  <div class="hc" style="left:86px;width:201px;border-right:1px solid #b9c0e6">
    <svg class="abs cal" style="left:10px;top:12px" width="16" height="16" viewBox="0 0 16 16"><rect x="1.2" y="1.8" width="13.7" height="13.9" rx="2.4" fill="#2c3345"/><rect x="2.8" y="4" width="10.5" height="1.9" fill="#fff"/><path d="M5.3 1.1v3.6M10.7 1.1v3.6" stroke="#2c3345" stroke-width="1.7" stroke-linecap="round"/><text x="8.05" y="13.1" text-anchor="middle" font-family="Liberation Sans, sans-serif" font-weight="bold" font-size="8" letter-spacing="-0.4" fill="#fff">10</text></svg>
    <div class="ht" style="left:34px;transform:scaleX(0.962)">Submission Date</div>
    <div class="abs" style="left:152px;top:11px;width:18px;height:18px;border-radius:3.5px;background:#6b71a8"></div>
    <svg class="abs" style="left:152px;top:11px" width="18" height="18" viewBox="0 0 18 18"><path d="M7.5 4.3H10.7L11.7 9.7L13.2 11.3V12H4.9V11.3L6.4 9.7Z M8.3 12H9.8L9.3 14.3H8.8Z" fill="#fff"/></svg>
    <div class="dots" style="left:180.4px"><i></i><i></i><i></i></div>
  </div>
  <div class="hc" style="left:287px;width:201px">
    <svg class="abs" style="left:10px;top:12px" width="16" height="16" viewBox="0 0 16 16"><rect x="1.2" y="1.2" width="13.5" height="13.5" rx="2.6" fill="#2c3345"/><path d="M3.8 4h8.4v1.7H9.05v6.4H6.95V5.7H3.8z" fill="#fff"/></svg>
    <div class="ht" style="left:34px;transform:scaleX(1.02)">Name</div>
    <div class="dots" style="left:180.4px"><i></i><i></i><i></i></div>
  </div>
  <div class="hc" style="left:488px;width:201px">
    <div class="t" style="left:10px;top:11.5px;font-size:14.8px;color:#2c3345">@</div>
    <div class="ht" style="left:34px;transform:scaleX(0.947)">Email Address</div>
    <div class="dots" style="left:180.4px"><i></i><i></i><i></i></div>
  </div>
  <div class="hc" style="left:689px;width:201px">
    <svg class="abs" style="left:10px;top:12px" width="16" height="16" viewBox="0 0 16 16"><g fill="none" stroke="#2c3345" stroke-linecap="round"><path d="M3.4 3.1L4.6 5.4" stroke-width="4.4"/><path d="M4.2 5.2Q5 10.4 11.4 11.9" stroke-width="3.2"/><path d="M10.6 10.9L12.7 12.5" stroke-width="4.4"/></g></svg>
    <div class="ht" style="left:34px;transform:scaleX(0.962)">Phone number</div>
    <div class="dots" style="left:180.4px"><i></i><i></i><i></i></div>
  </div>
  <div class="hc" style="left:890px;width:201px">
    <svg class="abs" style="left:9px;top:12px" width="17" height="17" viewBox="0 0 17 17"><path d="M2.3 5.4 Q2.3 4.1 3.6 3.9 L7.5 3.4 Q8.3 3.3 8.9 3.9 L14.9 9.4 Q15.7 10.2 14.9 11 L11.3 14.6 Q10.5 15.3 9.7 14.6 L2.8 8.2 Q2.3 7.7 2.3 7 Z" fill="#2c3345"/><path d="M4.3 0.7 L8.6 0.8 Q9.2 0.8 9.7 1.3 L15.9 7.3" fill="none" stroke="#2c3345" stroke-width="1.1" stroke-linecap="round"/></svg>
    <div class="ht" style="left:34px;transform:scaleX(0.971)">Available Cakes</div>
    <div class="dots" style="left:180.4px"><i></i><i></i><i></i></div>
  </div>
  <div class="hc" style="left:1091px;width:201px">
    <svg class="abs" style="left:9px;top:12px" width="17" height="17" viewBox="0 0 17 17"><path d="M2.3 3.6 Q2.3 2.2 3.7 2 L8.4 1.3 Q9.2 1.2 9.8 1.8 L15.8 8 Q16.5 8.8 15.8 9.6 L11.4 14.8 Q10.6 15.6 9.8 14.8 L2.9 8 Q2.3 7.4 2.3 6.6 Z" fill="#2c3345"/><circle cx="6.9" cy="6" r="1.15" fill="#f3f3fe"/></svg>
    <div class="ht" style="left:34px;transform:scaleX(0.975)">Deliver or Pickup</div>
    <div class="dots" style="left:180.4px"><i></i><i></i><i></i></div>
  </div>
  <div class="hc" style="left:1292px;width:148px;border-right:0">
    <svg class="abs cal" style="left:10px;top:12px" width="16" height="16" viewBox="0 0 16 16"><rect x="1.2" y="1.8" width="13.7" height="13.9" rx="2.4" fill="#2c3345"/><rect x="2.8" y="4" width="10.5" height="1.9" fill="#fff"/><path d="M5.3 1.1v3.6M10.7 1.1v3.6" stroke="#2c3345" stroke-width="1.7" stroke-linecap="round"/><text x="8.05" y="13.1" text-anchor="middle" font-family="Liberation Sans, sans-serif" font-weight="bold" font-size="8" letter-spacing="-0.4" fill="#fff">10</text></svg>
    <div class="ht" style="left:34px;transform:scaleX(1.01)">Delivery/Pickup ...</div>
  </div>
</div>

<div class="abs" style="left:287px;top:180px;width:6px;height:626px;background:linear-gradient(to right,rgba(70,70,120,0.13),rgba(70,70,120,0))"></div>
<!-- scrollbars -->
<div class="abs" style="left:1432px;top:220px;width:8px;height:554px;background:rgba(229,229,231,0.86)"></div>
<div class="abs" style="left:1432px;top:220px;width:8px;height:358px;background:rgba(0,0,0,0.54);border-radius:4px"></div>
<div class="abs" style="left:287px;top:767px;width:1145px;height:7px;background:rgba(229,229,231,0.86)"></div>
<div class="abs" style="left:287px;top:767px;width:881.5px;height:7px;background:rgba(0,0,0,0.54);border-radius:4px"></div>

<!-- footer -->
<div id="foot">
  <div class="abs" style="left:85px;top:0;width:1px;height:32px;background:#e3e5f5"></div>
  <div class="abs" style="left:285px;top:0;width:2px;height:32px;background:#dcdef2"></div>
  <div class="t" style="left:14px;top:11px;font-size:12.5px;color:#2c3345">Total <b>20</b></div>
</div>

<!-- watermark -->
<div class="abs" style="left:1226px;top:732px;width:190px;height:60px;opacity:0.56;filter:drop-shadow(1.5px 2px 1.5px rgba(0,0,0,0.45))">
  <svg class="abs" style="left:2px;top:4px" width="36" height="38" viewBox="0 0 32 34">
    <g stroke-linecap="round" stroke-width="7.4" fill="none">
      <line x1="5.9" y1="14.8" x2="14.9" y2="5.8" stroke="#0099ff"/>
      <line x1="13.2" y1="21.1" x2="25.3" y2="8.9" stroke="#ff6100"/>
      <line x1="19.9" y1="28.2" x2="25.3" y2="22.8" stroke="#ffb629"/>
    </g>
    <path d="M2.1 25.3 Q2.1 24 3.1 24.9 L9.2 30.4 Q10.3 31.9 8.6 31.9 L3.1 31.9 Q2.1 31.9 2.1 30.9 Z" fill="#0a1551"/>
  </svg>
  <div class="t" style="left:42px;top:6.5px;font-size:36px;font-weight:bold;color:#0a1551;transform:scaleX(1.003)">Jotform</div>
  <div class="t" style="left:41px;top:38px;font-size:11px;color:#0a1551;transform:scaleX(1.05)">Powerful forms get it done</div>
</div>

</div></body></html>
